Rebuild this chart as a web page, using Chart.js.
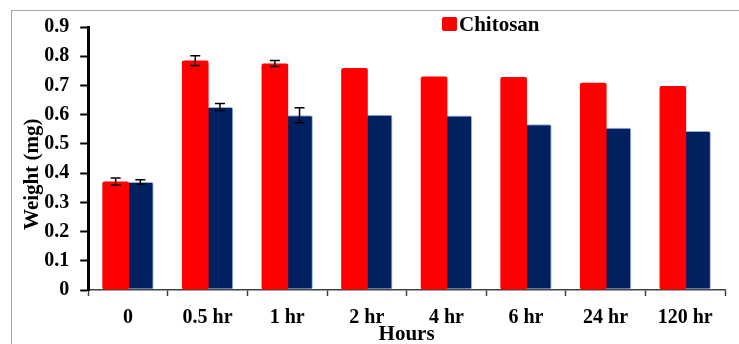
<!DOCTYPE html>
<html>
<head>
<meta charset="utf-8">
<script src="https://cdn.jsdelivr.net/npm/chart.js@4.4.1/dist/chart.umd.min.js"></script>
<style>
html, body { margin: 0; padding: 0; background: #fff; overflow: hidden; }
#frame { position: absolute; left: 11px; top: 10px; width: 800px; height: 400px; border: 1px solid #a6a6a6; }
#c { position: absolute; left: 0; top: 0; }
</style>
</head>
<body>
<div id="frame"></div>
<canvas id="c" width="739" height="344"></canvas>
<script>
// data
var hours = ['0', '0.5 hr', '1 hr', '2 hr', '4 hr', '6 hr', '24 hr', '120 hr'];
var chitosan = [0.371, 0.785, 0.775, 0.760, 0.731, 0.729, 0.709, 0.698];
var chitosanErr = [0.012, 0.017, 0.010, 0, 0, 0, 0, 0];
var control = [0.370, 0.626, 0.598, 0.600, 0.597, 0.567, 0.555, 0.544];
var controlErr = [0.007, 0.012, 0.026, 0, 0, 0, 0, 0];

var serif = '"Liberation Serif", "Times New Roman", serif';

// error bars from the errors array of each dataset
var errorBars = {
	id: 'errorBars',
	afterDatasetsDraw: function(chart) {
		var ctx = chart.ctx;
		var y = chart.scales.y;
		chart.data.datasets.forEach(function(ds, i) {
			var meta = chart.getDatasetMeta(i);
			meta.data.forEach(function(bar, j) {
				var e = ds.errors[j];
				if (!e) return;
				var v = ds.data[j];
				var top = y.getPixelForValue(v + e);
				var bot = y.getPixelForValue(v - e);
				ctx.save();
				ctx.strokeStyle = '#000';
				ctx.lineWidth = 1.5;
				ctx.beginPath();
				ctx.moveTo(bar.x, top); ctx.lineTo(bar.x, bot);
				ctx.moveTo(bar.x - 5, top); ctx.lineTo(bar.x + 5, top);
				ctx.moveTo(bar.x - 5, bot); ctx.lineTo(bar.x + 5, bot);
				ctx.stroke();
				ctx.restore();
			});
		});
	}
};

// only the first series is shown in the legend, placed inside the plot
var legendBox = {
	id: 'legendBox',
	afterDraw: function(chart) {
		var ctx = chart.ctx;
		var ds = chart.data.datasets[0];
		ctx.save();
		ctx.fillStyle = ds.backgroundColor;
		ctx.beginPath();
		if (ctx.roundRect) ctx.roundRect(442, 17, 15, 14, 2); else ctx.rect(442, 17, 15, 14);
		ctx.fill();
		ctx.fillStyle = '#000';
		ctx.font = 'bold 21px ' + serif;
		ctx.textBaseline = 'alphabetic';
		ctx.fillText(ds.label, 459, 31);
		ctx.restore();
	}
};

new Chart(document.getElementById('c'), {
	type: 'bar',
	data: {
		labels: hours,
		datasets: [{
			label: 'Chitosan',
			data: chitosan,
			errors: chitosanErr,
			backgroundColor: '#ff0000',
			borderRadius: 2,
			borderSkipped: false
		}, {
			label: 'Control',
			data: control,
			errors: controlErr,
			backgroundColor: '#002060',
			borderColor: 'rgba(90,120,190,0.6)',
			borderWidth: 1,
			borderRadius: 2,
			borderSkipped: false
		}]
	},
	options: {
		responsive: false,
		animation: false,
		devicePixelRatio: 1,
		categoryPercentage: 0.62,
		barPercentage: 1.08,
		layout: { padding: { left: 16, right: 14, top: 27, bottom: 0 } },
		plugins: {
			legend: { display: false },
			tooltip: { enabled: false }
		},
		scales: {
			x: {
				ticks: {
					color: '#000',
					font: { family: serif, size: 20, weight: 'bold', lineHeight: 1 },
					padding: 12,
					maxRotation: 0,
					autoSkip: false
				},
				grid: { drawOnChartArea: false, tickLength: 6, tickWidth: 1.5, tickColor: '#404040', offset: true },
				border: { color: '#404040', width: 1.5 },
				title: {
					display: true,
					text: 'Hours',
					color: '#000',
					font: { family: serif, size: 21, weight: 'bold', lineHeight: 1 },
					padding: { top: -16, bottom: -1 }
				}
			},
			y: {
				min: 0,
				max: 0.9,
				ticks: {
					stepSize: 0.1,
					color: '#000',
					font: { family: serif, size: 20, weight: 'bold' },
					padding: 11,
					callback: function(v) { return +v.toFixed(1); }
				},
				grid: { drawOnChartArea: false, tickLength: 8, tickWidth: 2, tickColor: '#000' },
				border: { color: '#000', width: 3 },
				title: {
					display: true,
					text: 'Weight (mg)\u00a0\u00a0\u00a0\u00a0\u00a0\u00a0',
					color: '#000',
					font: { family: serif, size: 21, weight: 'bold' },
					padding: { top: 4, bottom: -12 }
				}
			}
		}
	},
	plugins: [errorBars, legendBox]
});
</script>
</body>
</html>
